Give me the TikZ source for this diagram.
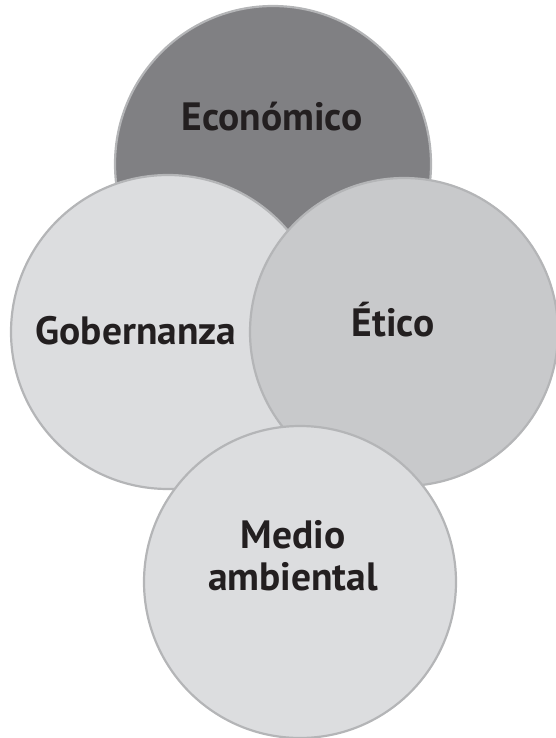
\documentclass[tikz,border=0pt]{standalone}
\usepackage{fontspec}
\setmainfont{PT Sans}
\definecolor{ecofill}{HTML}{808083}
\definecolor{gobfill}{HTML}{DCDDDF}
\definecolor{etifill}{HTML}{C8C9CB}
\definecolor{ringline}{HTML}{B4B5B7}
\definecolor{labeltext}{HTML}{231F20}
\tikzset{every picture/.style={line width=0.75pt}}
\tikzset{ring/.style={circle, draw=ringline, line width=2.2pt, inner sep=0pt},
  ringlabel/.style={text=labeltext, font=\fontsize{39.5}{42}\selectfont\bfseries, align=center, inner sep=0.75pt}}
\begin{document}
\begin{tikzpicture}[x=1pt,y=1pt,yscale=-1,xscale=1]
\useasboundingbox (0,0) rectangle (556,738);

%Shape: Circle [id:eco]
\node [ring, fill=ecofill, minimum size=316pt] (eco) at (273,164) {};
%Shape: Circle [id:gob]
\node [ring, fill=gobfill, minimum size=314pt] (gob) at (168,332) {};
%Shape: Circle [id:eti]
\node [ring, fill=etifill, minimum size=308pt] (eti) at (404,332) {};
%Shape: Circle [id:med]
\node [ring, fill=gobfill, minimum size=312pt] (med) at (300,582) {};

% Text Node
\node [ringlabel] (ecotext) at (272,117) {Económico};
% Text Node
\node [ringlabel] (gobtext) at (136,331) {Gobernanza};
% Text Node
\node [ringlabel] (etitext) at (393,320) {Ético};
% Text Node
\node [ringlabel] (medtext) at (293,556) {Medio\\ambiental};

\end{tikzpicture}
\end{document}
